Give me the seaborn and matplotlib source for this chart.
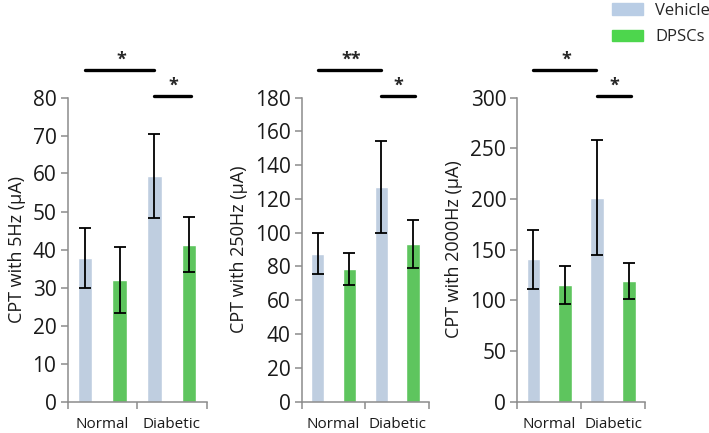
import numpy as np
import pandas as pd
import seaborn as sns
import matplotlib.pyplot as plt
from matplotlib.patches import Patch
from matplotlib.transforms import blended_transform_factory

# data
conditions = ['Normal Vehicle', 'Normal DPSCs', 'Diabetic Vehicle', 'Diabetic DPSCs']
treatments = ['Vehicle', 'DPSCs', 'Vehicle', 'DPSCs']
group_labels = ['Normal', 'Diabetic']

means_5hz = [37.8, 32.0, 59.4, 41.3]
err_5hz = [7.9, 8.7, 11.1, 7.2]
means_250hz = [87.5, 78.4, 127.2, 93.1]
err_250hz = [12.3, 9.5, 27.2, 14.1]
means_2000hz = [140.3, 115.3, 201.3, 119.2]
err_2000hz = [29.2, 18.9, 57.2, 17.9]

ylabels = ['CPT with 5Hz (\u03bcA)', 'CPT with 250Hz (\u03bcA)', 'CPT with 2000Hz (\u03bcA)']
ylims = [80, 180, 300]
ysteps = [10, 20, 50]
stars_long = ['*', '**', '*']
stars_short = ['*', '*', '*']

sns.set_style('white')
plt.rcParams['font.family'] = ['Open Sans', 'DejaVu Sans']

blue = '#b9cde5'
green = '#4dd64d'
palette = {'Vehicle': blue, 'DPSCs': green}

fig = plt.figure(figsize=(7.09, 4.33), dpi=100)
W, H = 709, 433
panels = [(67.5, 206.5), (301.7, 429.0), (517.3, 645.0)]
bottom, top = 401.5, 97.5

all_means = [means_5hz, means_250hz, means_2000hz]
all_errs = [err_5hz, err_250hz, err_2000hz]

for i, (x0, x1) in enumerate(panels):
    ax = fig.add_axes([x0 / W, 1 - bottom / H, (x1 - x0) / W, (bottom - top) / H])
    df = pd.DataFrame({'cond': conditions, 'treat': treatments, 'value': all_means[i]})
    sns.barplot(data=df, x='cond', y='value', hue='treat', palette=palette,
                dodge=False, width=0.42, legend=False, ax=ax)
    ax.errorbar(np.arange(4), all_means[i], yerr=all_errs[i], fmt='none',
                ecolor='black', elinewidth=1.3, capsize=4, capthick=1.3)

    ax.set_xlim(-0.5, 3.5)
    ax.set_ylim(0, ylims[i])
    ax.set_yticks(np.arange(0, ylims[i] + 1, ysteps[i]))
    ax.tick_params(axis='y', labelsize=15, length=5, width=1.1, color='#8c8c8c',
                   labelcolor='#1a1a1a', pad=3, left=True)
    ax.set_xticks([0.5, 2.5])
    ax.set_xticklabels(group_labels)
    ax.set_xticks([-0.5, 0.5, 1.5, 2.5, 3.5], minor=True)
    ax.tick_params(axis='x', which='major', length=0, labelsize=11, pad=11.5, labelcolor='#1a1a1a')
    ax.tick_params(axis='x', which='minor', length=5, width=1.1, color='#8c8c8c', bottom=True)
    ax.set_xlabel('')
    ax.set_ylabel(ylabels[i], fontsize=13, color='#1a1a1a', labelpad=5)
    sns.despine(ax=ax)
    for s in ['left', 'bottom']:
        ax.spines[s].set_color('#8c8c8c')
        ax.spines[s].set_linewidth(1.1)

    # significance bars
    tr = blended_transform_factory(ax.transData, fig.transFigure)
    ax.plot([0, 1.98], [0.838, 0.838], color='black', lw=2.4, transform=tr, clip_on=False)
    ax.plot([2, 3.05], [0.779, 0.779], color='black', lw=2.4, transform=tr, clip_on=False)
    ax.text(1.05, 0.841, stars_long[i], ha='center', va='bottom', fontsize=13,
            fontweight='bold', transform=tr)
    ax.text(2.55, 0.782, stars_short[i], ha='center', va='bottom', fontsize=13,
            fontweight='bold', transform=tr)

handles = [Patch(color=blue, label='Vehicle'), Patch(color=green, label='DPSCs')]
fig.legend(handles=handles, loc='upper left', bbox_to_anchor=(612 / W, 1 - 3 / H),
           frameon=False, fontsize=12, handlelength=1.86, handleheight=0.72,
           handletextpad=0.72, labelspacing=0.62, borderpad=0, borderaxespad=0)

fig.savefig('out.png', dpi=100)
